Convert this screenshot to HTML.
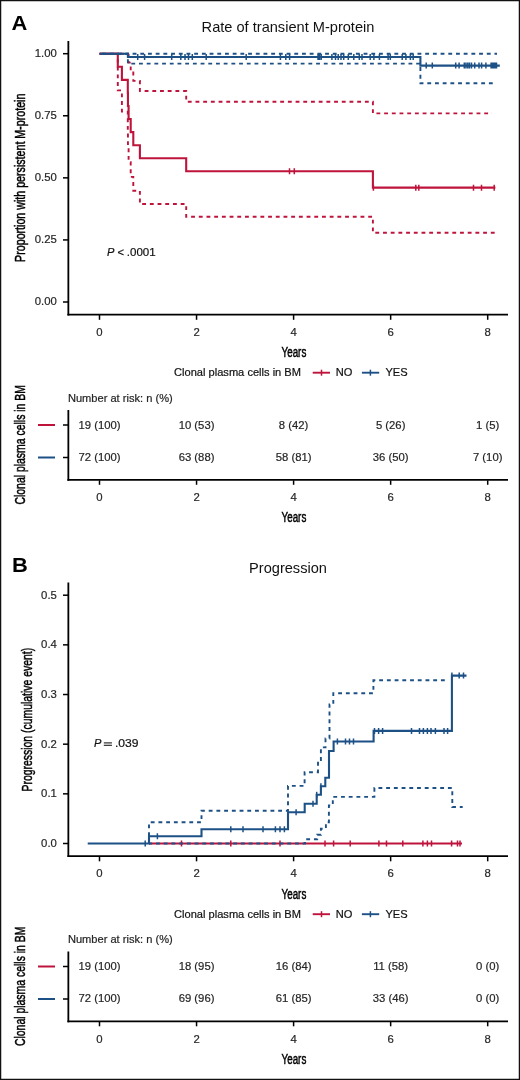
<!DOCTYPE html>
<html><head><meta charset="utf-8"><title>Figure</title>
<style>html,body{margin:0;padding:0;background:#fff;overflow:hidden;}svg{display:block;filter:blur(0.4px);}text{font-family:"Liberation Sans",sans-serif;}.cond{stroke:#000;stroke-width:0.5px}</style>
</head><body>
<svg width="520" height="1080" viewBox="0 0 520 1080" font-family="&quot;Liberation Sans&quot;, sans-serif">
<rect x="0" y="0" width="520" height="1080" fill="#fff"/>
<text transform="translate(11.6,30.1) scale(1.08,1)" x="0" y="0" font-size="20.3" font-weight="bold" fill="#000">A</text>
<text x="288" y="31.8" font-size="14.6" text-anchor="middle" fill="#111">Rate of transient M-protein</text>
<text transform="translate(25,177.75) rotate(-90)" x="0" y="0" font-size="15.5" text-anchor="middle" fill="#000" class="cond" textLength="168.3" lengthAdjust="spacingAndGlyphs">Proportion with persistent M-protein</text>
<line x1="68.35" y1="41.1" x2="68.35" y2="315.4" stroke="#000" stroke-width="1.8"/>
<line x1="67.45" y1="314.6" x2="508" y2="314.6" stroke="#000" stroke-width="1.9"/>
<line x1="63" y1="53.7" x2="68" y2="53.7" stroke="#000" stroke-width="1.5"/>
<text x="56.9" y="57.05" font-size="11.35" text-anchor="end" fill="#262626" stroke="#262626" stroke-width="0.2">1.00</text>
<line x1="63" y1="115.77" x2="68" y2="115.77" stroke="#000" stroke-width="1.5"/>
<text x="56.9" y="119.12" font-size="11.35" text-anchor="end" fill="#262626" stroke="#262626" stroke-width="0.2">0.75</text>
<line x1="63" y1="177.85" x2="68" y2="177.85" stroke="#000" stroke-width="1.5"/>
<text x="56.9" y="181.2" font-size="11.35" text-anchor="end" fill="#262626" stroke="#262626" stroke-width="0.2">0.50</text>
<line x1="63" y1="239.93" x2="68" y2="239.93" stroke="#000" stroke-width="1.5"/>
<text x="56.9" y="243.28" font-size="11.35" text-anchor="end" fill="#262626" stroke="#262626" stroke-width="0.2">0.25</text>
<line x1="63" y1="302" x2="68" y2="302" stroke="#000" stroke-width="1.5"/>
<text x="56.9" y="305.35" font-size="11.35" text-anchor="end" fill="#262626" stroke="#262626" stroke-width="0.2">0.00</text>
<line x1="99.5" y1="315" x2="99.5" y2="319.8" stroke="#000" stroke-width="1.5"/>
<text x="99.5" y="335.7" font-size="11.35" text-anchor="middle" fill="#262626" stroke="#262626" stroke-width="0.2">0</text>
<line x1="196.55" y1="315" x2="196.55" y2="319.8" stroke="#000" stroke-width="1.5"/>
<text x="196.55" y="335.7" font-size="11.35" text-anchor="middle" fill="#262626" stroke="#262626" stroke-width="0.2">2</text>
<line x1="293.6" y1="315" x2="293.6" y2="319.8" stroke="#000" stroke-width="1.5"/>
<text x="293.6" y="335.7" font-size="11.35" text-anchor="middle" fill="#262626" stroke="#262626" stroke-width="0.2">4</text>
<line x1="390.65" y1="315" x2="390.65" y2="319.8" stroke="#000" stroke-width="1.5"/>
<text x="390.65" y="335.7" font-size="11.35" text-anchor="middle" fill="#262626" stroke="#262626" stroke-width="0.2">6</text>
<line x1="487.7" y1="315" x2="487.7" y2="319.8" stroke="#000" stroke-width="1.5"/>
<text x="487.7" y="335.7" font-size="11.35" text-anchor="middle" fill="#262626" stroke="#262626" stroke-width="0.2">8</text>
<text x="293.9" y="357" font-size="15.5" text-anchor="middle" fill="#000" textLength="24.8" lengthAdjust="spacingAndGlyphs" class="cond">Years</text>
<text x="174" y="376.2" font-size="11.1" text-anchor="start" fill="#111" stroke="#111" stroke-width="0.2">Clonal plasma cells in BM</text>
<line x1="312.7" y1="372.7" x2="330" y2="372.7" stroke="#BE143C" stroke-width="1.9"/>
<line x1="321.5" y1="369.7" x2="321.5" y2="375.7" stroke="#BE143C" stroke-width="1.5"/>
<text x="335.8" y="376.2" font-size="11.1" text-anchor="start" fill="#111" stroke="#111" stroke-width="0.2">NO</text>
<line x1="361.9" y1="372.7" x2="379.2" y2="372.7" stroke="#1D5186" stroke-width="1.9"/>
<line x1="370.4" y1="369.7" x2="370.4" y2="375.7" stroke="#1D5186" stroke-width="1.5"/>
<text x="385.4" y="376.2" font-size="11.1" text-anchor="start" fill="#111" stroke="#111" stroke-width="0.2">YES</text>
<text x="67.9" y="401.6" font-size="11.1" text-anchor="start" fill="#262626" stroke="#262626" stroke-width="0.2">Number at risk: n (%)</text>
<text transform="translate(25.1,444.8) rotate(-90)" x="0" y="0" font-size="15.5" text-anchor="middle" fill="#000" class="cond" textLength="119.6" lengthAdjust="spacingAndGlyphs">Clonal plasma cells in BM</text>
<line x1="68.35" y1="410" x2="68.35" y2="480.8" stroke="#000" stroke-width="1.8"/>
<line x1="67.45" y1="479.9" x2="508" y2="479.9" stroke="#000" stroke-width="1.9"/>
<line x1="63" y1="425" x2="68" y2="425" stroke="#000" stroke-width="1.5"/>
<line x1="38" y1="425" x2="55" y2="425" stroke="#BE143C" stroke-width="2.0"/>
<line x1="63" y1="457.5" x2="68" y2="457.5" stroke="#000" stroke-width="1.5"/>
<line x1="38" y1="457.5" x2="55" y2="457.5" stroke="#1D5186" stroke-width="2.0"/>
<line x1="99.5" y1="480.3" x2="99.5" y2="484.8" stroke="#000" stroke-width="1.5"/>
<text x="99.5" y="501.2" font-size="11.35" text-anchor="middle" fill="#262626" stroke="#262626" stroke-width="0.2">0</text>
<line x1="196.55" y1="480.3" x2="196.55" y2="484.8" stroke="#000" stroke-width="1.5"/>
<text x="196.55" y="501.2" font-size="11.35" text-anchor="middle" fill="#262626" stroke="#262626" stroke-width="0.2">2</text>
<line x1="293.6" y1="480.3" x2="293.6" y2="484.8" stroke="#000" stroke-width="1.5"/>
<text x="293.6" y="501.2" font-size="11.35" text-anchor="middle" fill="#262626" stroke="#262626" stroke-width="0.2">4</text>
<line x1="390.65" y1="480.3" x2="390.65" y2="484.8" stroke="#000" stroke-width="1.5"/>
<text x="390.65" y="501.2" font-size="11.35" text-anchor="middle" fill="#262626" stroke="#262626" stroke-width="0.2">6</text>
<line x1="487.7" y1="480.3" x2="487.7" y2="484.8" stroke="#000" stroke-width="1.5"/>
<text x="487.7" y="501.2" font-size="11.35" text-anchor="middle" fill="#262626" stroke="#262626" stroke-width="0.2">8</text>
<text x="99.5" y="428.6" font-size="11.3" text-anchor="middle" fill="#262626" stroke="#262626" stroke-width="0.2">19 (100)</text>
<text x="196.55" y="428.6" font-size="11.3" text-anchor="middle" fill="#262626" stroke="#262626" stroke-width="0.2">10 (53)</text>
<text x="293.6" y="428.6" font-size="11.3" text-anchor="middle" fill="#262626" stroke="#262626" stroke-width="0.2">8 (42)</text>
<text x="390.65" y="428.6" font-size="11.3" text-anchor="middle" fill="#262626" stroke="#262626" stroke-width="0.2">5 (26)</text>
<text x="487.7" y="428.6" font-size="11.3" text-anchor="middle" fill="#262626" stroke="#262626" stroke-width="0.2">1 (5)</text>
<text x="99.5" y="460.9" font-size="11.3" text-anchor="middle" fill="#262626" stroke="#262626" stroke-width="0.2">72 (100)</text>
<text x="196.55" y="460.9" font-size="11.3" text-anchor="middle" fill="#262626" stroke="#262626" stroke-width="0.2">63 (88)</text>
<text x="293.6" y="460.9" font-size="11.3" text-anchor="middle" fill="#262626" stroke="#262626" stroke-width="0.2">58 (81)</text>
<text x="390.65" y="460.9" font-size="11.3" text-anchor="middle" fill="#262626" stroke="#262626" stroke-width="0.2">36 (50)</text>
<text x="487.7" y="460.9" font-size="11.3" text-anchor="middle" fill="#262626" stroke="#262626" stroke-width="0.2">7 (10)</text>
<text x="293.9" y="522.4" font-size="15.5" text-anchor="middle" fill="#000" textLength="24.8" lengthAdjust="spacingAndGlyphs" class="cond">Years</text>
<text x="107" y="255.7" font-size="11.1" text-anchor="start" fill="#111" stroke="#111" stroke-width="0.2" font-style="italic">P</text>
<text x="117.6" y="255.7" font-size="11.1" text-anchor="start" fill="#111" stroke="#111" stroke-width="0.2">&lt;</text>
<text x="126.8" y="255.7" font-size="11.1" text-anchor="start" fill="#111" stroke="#111" stroke-width="0.2" textLength="28.9" lengthAdjust="spacingAndGlyphs">.0001</text>
<path d="M99.5 53.7H117.8V53.7H121.9V53.7H127.8V53.7H127.95V54.74H128.6V62.64H130.7V71.41H133.3V80.92H139.9V91.06H186.2V101.79H372.9V113.36H492" fill="none" stroke="#BE143C" stroke-width="1.9" stroke-dasharray="3.85 3.85" stroke-dashoffset="2.21" stroke-linejoin="miter" stroke-linecap="butt"/>
<path d="M99.5 53.7H117.8V90.42H121.9V111.59H127.8V129.9H127.95V146.59H128.6V162.15H130.7V176.83H133.3V190.76H139.9V204.03H186.2V216.7H372.9V232.68H496" fill="none" stroke="#BE143C" stroke-width="1.9" stroke-dasharray="3.85 3.85" stroke-dashoffset="7.2" stroke-linejoin="miter" stroke-linecap="butt"/>
<path d="M99.5 53.7H117.8V66.77H121.9V79.84H127.8V92.91H127.95V105.97H128.6V119.04H130.7V132.11H133.3V145.18H139.9V158.25H186.2V171.32H372.9V187.65H495.4" fill="none" stroke="#BE143C" stroke-width="2.1" stroke-linejoin="miter" stroke-linecap="butt"/>
<path d="M289.5 168.32V174.32 M294.3 168.32V174.32" stroke="#BE143C" stroke-width="1.5" fill="none"/>
<path d="M373.4 184.65V190.65 M415.8 184.65V190.65 M418.8 184.65V190.65 M473.5 184.65V190.65 M481.5 184.65V190.65 M494.2 184.65V190.65" stroke="#BE143C" stroke-width="1.5" fill="none"/>
<path d="M99.5 53.7H497" fill="none" stroke="#1D5186" stroke-width="1.9" stroke-dasharray="3.85 3.85" stroke-dashoffset="5.4" stroke-linejoin="miter" stroke-linecap="butt"/>
<path d="M99.5 53.7H127.9V63.6H420.4V83.3H494" fill="none" stroke="#1D5186" stroke-width="1.9" stroke-dasharray="3.85 3.85" stroke-dashoffset="4.5" stroke-linejoin="miter" stroke-linecap="butt"/>
<path d="M99.5 53.7H127.9V57.0H420.4V65.6H499.8" fill="none" stroke="#1D5186" stroke-width="2.1" stroke-linejoin="miter" stroke-linecap="butt"/>
<path d="M137.7 54V60 M144.6 54V60 M171.7 54V60 M180.8 54V60 M185 54V60 M188.5 54V60 M192.3 54V60 M206.2 54V60 M246.2 54V60 M280.4 54V60 M285.8 54V60 M289.6 54V60 M318 54V60 M319.5 54V60 M321.2 54V60 M331.9 54V60 M335.5 54V60 M338.2 54V60 M341 54V60 M343.7 54V60 M348.3 54V60 M353.8 54V60 M359.3 54V60 M362 54V60 M370.2 54V60 M373.9 54V60 M379.4 54V60 M388.1 54V60 M390.3 54V60 M402.2 54V60 M405.9 54V60 M410.4 54V60 M413.2 54V60" stroke="#1D5186" stroke-width="1.5" fill="none"/>
<path d="M426.2 62.6V68.6 M432.3 62.6V68.6 M455.7 62.6V68.6 M459.1 62.6V68.6 M464.3 62.6V68.6 M466 62.6V68.6 M467.8 62.6V68.6 M469.5 62.6V68.6 M471.5 62.6V68.6 M474.7 62.6V68.6 M479 62.6V68.6 M481.6 62.6V68.6 M485.9 62.6V68.6 M491.1 62.6V68.6 M492.5 62.6V68.6 M494 62.6V68.6 M495.3 62.6V68.6 M496.5 62.6V68.6" stroke="#1D5186" stroke-width="1.5" fill="none"/>
<text transform="translate(11.9,571.6) scale(1.08,1)" x="0" y="0" font-size="20.3" font-weight="bold" fill="#000">B</text>
<text x="288" y="573.3" font-size="14.6" text-anchor="middle" fill="#111">Progression</text>
<text transform="translate(31.9,719.7) rotate(-90)" x="0" y="0" font-size="15.5" text-anchor="middle" fill="#000" class="cond" textLength="143.6" lengthAdjust="spacingAndGlyphs">Progression (cumulative event)</text>
<line x1="68.35" y1="582.6" x2="68.35" y2="856.9" stroke="#000" stroke-width="1.8"/>
<line x1="67.45" y1="856.1" x2="508" y2="856.1" stroke="#000" stroke-width="1.9"/>
<line x1="63" y1="595.2" x2="68" y2="595.2" stroke="#000" stroke-width="1.5"/>
<text x="56.9" y="598.55" font-size="11.35" text-anchor="end" fill="#262626" stroke="#262626" stroke-width="0.2">0.5</text>
<line x1="63" y1="644.86" x2="68" y2="644.86" stroke="#000" stroke-width="1.5"/>
<text x="56.9" y="648.21" font-size="11.35" text-anchor="end" fill="#262626" stroke="#262626" stroke-width="0.2">0.4</text>
<line x1="63" y1="694.52" x2="68" y2="694.52" stroke="#000" stroke-width="1.5"/>
<text x="56.9" y="697.87" font-size="11.35" text-anchor="end" fill="#262626" stroke="#262626" stroke-width="0.2">0.3</text>
<line x1="63" y1="744.18" x2="68" y2="744.18" stroke="#000" stroke-width="1.5"/>
<text x="56.9" y="747.53" font-size="11.35" text-anchor="end" fill="#262626" stroke="#262626" stroke-width="0.2">0.2</text>
<line x1="63" y1="793.84" x2="68" y2="793.84" stroke="#000" stroke-width="1.5"/>
<text x="56.9" y="797.19" font-size="11.35" text-anchor="end" fill="#262626" stroke="#262626" stroke-width="0.2">0.1</text>
<line x1="63" y1="843.5" x2="68" y2="843.5" stroke="#000" stroke-width="1.5"/>
<text x="56.9" y="846.85" font-size="11.35" text-anchor="end" fill="#262626" stroke="#262626" stroke-width="0.2">0.0</text>
<line x1="99.5" y1="856.5" x2="99.5" y2="861.3" stroke="#000" stroke-width="1.5"/>
<text x="99.5" y="877.2" font-size="11.35" text-anchor="middle" fill="#262626" stroke="#262626" stroke-width="0.2">0</text>
<line x1="196.55" y1="856.5" x2="196.55" y2="861.3" stroke="#000" stroke-width="1.5"/>
<text x="196.55" y="877.2" font-size="11.35" text-anchor="middle" fill="#262626" stroke="#262626" stroke-width="0.2">2</text>
<line x1="293.6" y1="856.5" x2="293.6" y2="861.3" stroke="#000" stroke-width="1.5"/>
<text x="293.6" y="877.2" font-size="11.35" text-anchor="middle" fill="#262626" stroke="#262626" stroke-width="0.2">4</text>
<line x1="390.65" y1="856.5" x2="390.65" y2="861.3" stroke="#000" stroke-width="1.5"/>
<text x="390.65" y="877.2" font-size="11.35" text-anchor="middle" fill="#262626" stroke="#262626" stroke-width="0.2">6</text>
<line x1="487.7" y1="856.5" x2="487.7" y2="861.3" stroke="#000" stroke-width="1.5"/>
<text x="487.7" y="877.2" font-size="11.35" text-anchor="middle" fill="#262626" stroke="#262626" stroke-width="0.2">8</text>
<text x="293.9" y="898.5" font-size="15.5" text-anchor="middle" fill="#000" textLength="24.8" lengthAdjust="spacingAndGlyphs" class="cond">Years</text>
<text x="174" y="917.7" font-size="11.1" text-anchor="start" fill="#111" stroke="#111" stroke-width="0.2">Clonal plasma cells in BM</text>
<line x1="312.7" y1="914.2" x2="330" y2="914.2" stroke="#BE143C" stroke-width="1.9"/>
<line x1="321.5" y1="911.2" x2="321.5" y2="917.2" stroke="#BE143C" stroke-width="1.5"/>
<text x="335.8" y="917.7" font-size="11.1" text-anchor="start" fill="#111" stroke="#111" stroke-width="0.2">NO</text>
<line x1="361.9" y1="914.2" x2="379.2" y2="914.2" stroke="#1D5186" stroke-width="1.9"/>
<line x1="370.4" y1="911.2" x2="370.4" y2="917.2" stroke="#1D5186" stroke-width="1.5"/>
<text x="385.4" y="917.7" font-size="11.1" text-anchor="start" fill="#111" stroke="#111" stroke-width="0.2">YES</text>
<text x="67.9" y="943.1" font-size="11.1" text-anchor="start" fill="#262626" stroke="#262626" stroke-width="0.2">Number at risk: n (%)</text>
<text transform="translate(25.1,986.3) rotate(-90)" x="0" y="0" font-size="15.5" text-anchor="middle" fill="#000" class="cond" textLength="119.6" lengthAdjust="spacingAndGlyphs">Clonal plasma cells in BM</text>
<line x1="68.35" y1="951.5" x2="68.35" y2="1022.3" stroke="#000" stroke-width="1.8"/>
<line x1="67.45" y1="1021.4" x2="508" y2="1021.4" stroke="#000" stroke-width="1.9"/>
<line x1="63" y1="966.5" x2="68" y2="966.5" stroke="#000" stroke-width="1.5"/>
<line x1="38" y1="966.5" x2="55" y2="966.5" stroke="#BE143C" stroke-width="2.0"/>
<line x1="63" y1="999" x2="68" y2="999" stroke="#000" stroke-width="1.5"/>
<line x1="38" y1="999" x2="55" y2="999" stroke="#1D5186" stroke-width="2.0"/>
<line x1="99.5" y1="1021.8" x2="99.5" y2="1026.3" stroke="#000" stroke-width="1.5"/>
<text x="99.5" y="1042.7" font-size="11.35" text-anchor="middle" fill="#262626" stroke="#262626" stroke-width="0.2">0</text>
<line x1="196.55" y1="1021.8" x2="196.55" y2="1026.3" stroke="#000" stroke-width="1.5"/>
<text x="196.55" y="1042.7" font-size="11.35" text-anchor="middle" fill="#262626" stroke="#262626" stroke-width="0.2">2</text>
<line x1="293.6" y1="1021.8" x2="293.6" y2="1026.3" stroke="#000" stroke-width="1.5"/>
<text x="293.6" y="1042.7" font-size="11.35" text-anchor="middle" fill="#262626" stroke="#262626" stroke-width="0.2">4</text>
<line x1="390.65" y1="1021.8" x2="390.65" y2="1026.3" stroke="#000" stroke-width="1.5"/>
<text x="390.65" y="1042.7" font-size="11.35" text-anchor="middle" fill="#262626" stroke="#262626" stroke-width="0.2">6</text>
<line x1="487.7" y1="1021.8" x2="487.7" y2="1026.3" stroke="#000" stroke-width="1.5"/>
<text x="487.7" y="1042.7" font-size="11.35" text-anchor="middle" fill="#262626" stroke="#262626" stroke-width="0.2">8</text>
<text x="99.5" y="970.1" font-size="11.3" text-anchor="middle" fill="#262626" stroke="#262626" stroke-width="0.2">19 (100)</text>
<text x="196.55" y="970.1" font-size="11.3" text-anchor="middle" fill="#262626" stroke="#262626" stroke-width="0.2">18 (95)</text>
<text x="293.6" y="970.1" font-size="11.3" text-anchor="middle" fill="#262626" stroke="#262626" stroke-width="0.2">16 (84)</text>
<text x="390.65" y="970.1" font-size="11.3" text-anchor="middle" fill="#262626" stroke="#262626" stroke-width="0.2">11 (58)</text>
<text x="487.7" y="970.1" font-size="11.3" text-anchor="middle" fill="#262626" stroke="#262626" stroke-width="0.2">0 (0)</text>
<text x="99.5" y="1002.4" font-size="11.3" text-anchor="middle" fill="#262626" stroke="#262626" stroke-width="0.2">72 (100)</text>
<text x="196.55" y="1002.4" font-size="11.3" text-anchor="middle" fill="#262626" stroke="#262626" stroke-width="0.2">69 (96)</text>
<text x="293.6" y="1002.4" font-size="11.3" text-anchor="middle" fill="#262626" stroke="#262626" stroke-width="0.2">61 (85)</text>
<text x="390.65" y="1002.4" font-size="11.3" text-anchor="middle" fill="#262626" stroke="#262626" stroke-width="0.2">33 (46)</text>
<text x="487.7" y="1002.4" font-size="11.3" text-anchor="middle" fill="#262626" stroke="#262626" stroke-width="0.2">0 (0)</text>
<text x="293.9" y="1063.9" font-size="15.5" text-anchor="middle" fill="#000" textLength="24.8" lengthAdjust="spacingAndGlyphs" class="cond">Years</text>
<text x="94" y="747.3" font-size="11.1" text-anchor="start" fill="#111" stroke="#111" stroke-width="0.2" font-style="italic">P</text>
<line x1="103.8" y1="742.9" x2="111.9" y2="742.9" stroke="#222" stroke-width="1.15"/>
<line x1="103.8" y1="745.3" x2="111.9" y2="745.3" stroke="#222" stroke-width="1.15"/>
<text x="115" y="747.3" font-size="11.1" text-anchor="start" fill="#111" stroke="#111" stroke-width="0.2" textLength="23.6" lengthAdjust="spacingAndGlyphs">.039</text>
<path d="M149 843.5H462" fill="none" stroke="#BE143C" stroke-width="2.1" stroke-linejoin="miter" stroke-linecap="butt"/>
<path d="M181.5 840.5V846.5 M230.8 840.5V846.5 M280 840.5V846.5 M325 840.5V846.5 M333.6 840.5V846.5 M350.2 840.5V846.5 M378.9 840.5V846.5 M386.5 840.5V846.5 M402.8 840.5V846.5 M422.9 840.5V846.5 M427.4 840.5V846.5 M431.5 840.5V846.5 M451.6 840.5V846.5 M457.5 840.5V846.5 M460 840.5V846.5" stroke="#BE143C" stroke-width="1.5" fill="none"/>
<path d="M149 843.5V822.3H201.5V810.8H288V785.9H304.6V772.2H318V760H320.9V747.4H325.5V738.5H329.5V704.4H333.3V693.2H373.4V680.2H445" fill="none" stroke="#1D5186" stroke-width="1.9" stroke-dasharray="3.86 3.86" stroke-dashoffset="0.24" stroke-linejoin="miter" stroke-linecap="butt"/>
<path d="M149 843.5H305V839.3H317.2V834.7H320.9V828.7H325.9V822.2H328.9V805.4H332.8V796.9H374.4V788H452.3V807H462.7" fill="none" stroke="#1D5186" stroke-width="1.9" stroke-dasharray="3.86 3.86" stroke-dashoffset="0.7" stroke-linejoin="miter" stroke-linecap="butt"/>
<path d="M87.7 843.5H149V836.2H201.5V829.2H288V812.3H304.7V803.8H316.7V794.8H320.9V786.3H325.3V777.8H329V751H333.6V741.5H373.6V730.9H451.9V675.6H466.5" fill="none" stroke="#1D5186" stroke-width="2.1" stroke-linejoin="miter" stroke-linecap="butt"/>
<path d="M145.2 840.5V846.5" stroke="#1D5186" stroke-width="1.5" fill="none"/>
<path d="M149 833.2V839.2 M157.4 833.2V839.2" stroke="#1D5186" stroke-width="1.5" fill="none"/>
<path d="M230.8 826.2V832.2 M243 826.2V832.2 M263 826.2V832.2 M275.4 826.2V832.2 M280 826.2V832.2 M284.4 826.2V832.2" stroke="#1D5186" stroke-width="1.5" fill="none"/>
<path d="M296.1 809.3V815.3" stroke="#1D5186" stroke-width="1.5" fill="none"/>
<path d="M313 800.8V806.8" stroke="#1D5186" stroke-width="1.5" fill="none"/>
<path d="M316.7 791.8V797.8" stroke="#1D5186" stroke-width="1.5" fill="none"/>
<path d="M320.9 783.3V789.3" stroke="#1D5186" stroke-width="1.5" fill="none"/>
<path d="M337.4 738.5V744.5 M345.5 738.5V744.5 M349.5 738.5V744.5 M353.5 738.5V744.5" stroke="#1D5186" stroke-width="1.5" fill="none"/>
<path d="M374.5 727.9V733.9 M378.6 727.9V733.9 M382.6 727.9V733.9 M411.5 727.9V733.9 M419.5 727.9V733.9 M423.4 727.9V733.9 M427.4 727.9V733.9 M431 727.9V733.9 M435.4 727.9V733.9 M444 727.9V733.9 M447.6 727.9V733.9" stroke="#1D5186" stroke-width="1.5" fill="none"/>
<path d="M451.9 672.6V678.6 M459.2 672.6V678.6 M463.5 672.6V678.6" stroke="#1D5186" stroke-width="1.5" fill="none"/>
<rect x="0.6" y="0.6" width="518.8" height="1078.8" fill="none" stroke="#111" stroke-width="1.3"/>
</svg>
</body></html>
